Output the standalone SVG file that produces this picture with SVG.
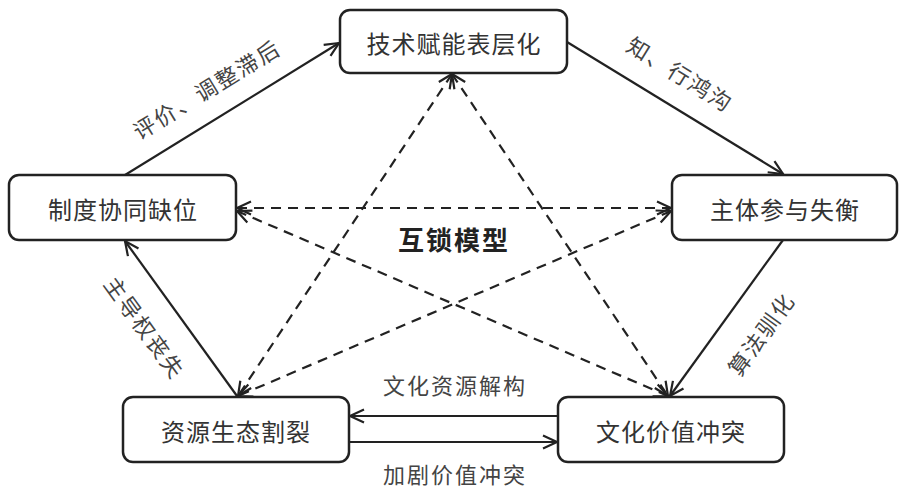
<svg xmlns="http://www.w3.org/2000/svg" width="903" height="489" viewBox="0 0 903 489">
<style>
.node rect{fill:#fff;stroke:#222;stroke-width:2.5}
.node text{font-family:"Noto Sans CJK SC","Noto Sans",sans-serif;font-size:24px;letter-spacing:1px;fill:#333;text-anchor:middle;dominant-baseline:central}
.solid{stroke:#222;stroke-width:2.2;fill:none}
.dash{stroke:#222;stroke-width:2.2;fill:none;stroke-dasharray:10 7}
.lbl{font-family:"Noto Sans CJK SC","Noto Sans",sans-serif;font-size:22px;letter-spacing:2px;fill:#444;text-anchor:middle;dominant-baseline:central}
.title{font-family:"Noto Sans CJK SC","Noto Sans",sans-serif;font-size:26px;font-weight:bold;letter-spacing:2px;fill:#222;text-anchor:middle;dominant-baseline:central}
</style>
<defs>
<marker id="arr" markerUnits="userSpaceOnUse" markerWidth="20" markerHeight="20" viewBox="-16 -10 20 20" refX="0" refY="0" orient="auto-start-reverse">
<path d="M-14,-6.5 L0,0 L-14,6.5" fill="none" stroke="#222" stroke-width="2.2" stroke-dasharray="none"/>
</marker>
</defs>
<rect width="903" height="489" fill="#fff"/>
<g id="connectors">
<line class="solid" x1="125" y1="175" x2="339" y2="43" marker-end="url(#arr)"/>
<line class="solid" x1="567" y1="42" x2="783" y2="174" marker-end="url(#arr)"/>
<line class="solid" x1="783" y1="240" x2="670" y2="396" marker-end="url(#arr)"/>
<line class="solid" x1="237" y1="396" x2="125" y2="241" marker-end="url(#arr)"/>
<line class="solid" x1="558" y1="416" x2="350" y2="416" marker-end="url(#arr)"/>
<line class="solid" x1="350" y1="442" x2="557" y2="442" marker-end="url(#arr)"/>
<line class="dash" x1="237" y1="208" x2="671" y2="208" marker-start="url(#arr)" marker-end="url(#arr)"/>
<line class="dash" x1="452" y1="74" x2="238" y2="396" marker-start="url(#arr)" marker-end="url(#arr)"/>
<line class="dash" x1="452" y1="74" x2="668" y2="396" marker-start="url(#arr)" marker-end="url(#arr)"/>
<line class="dash" x1="237" y1="211" x2="668" y2="396" marker-start="url(#arr)" marker-end="url(#arr)"/>
<line class="dash" x1="671" y1="211" x2="238" y2="396" marker-start="url(#arr)" marker-end="url(#arr)"/>
<text class="lbl" transform="translate(206,88) rotate(-31.5)">评价、调整滞后</text>
<text class="lbl" transform="translate(681,73) rotate(31.7)">知、行鸿沟</text>
<text class="lbl" transform="translate(146,327) rotate(54)">主导权丧失</text>
<text class="lbl" transform="translate(760,333) rotate(-54)">算法驯化</text>
<text class="lbl" x="455" y="384">文化资源解构</text>
<text class="lbl" x="455" y="473">加剧价值冲突</text>
</g>
<text class="title" x="454" y="238">互锁模型</text>
<g id="n_tech" class="node"><rect x="340" y="10" width="227" height="63" rx="10"/><text x="454" y="42">技术赋能表层化</text></g>
<g id="n_inst" class="node"><rect x="9" y="175" width="227" height="65" rx="10"/><text x="123" y="208">制度协同缺位</text></g>
<g id="n_subj" class="node"><rect x="672" y="175" width="225" height="65" rx="10"/><text x="785" y="208">主体参与失衡</text></g>
<g id="n_res" class="node"><rect x="123" y="397" width="226" height="65" rx="10"/><text x="236" y="430">资源生态割裂</text></g>
<g id="n_cult" class="node"><rect x="558" y="397" width="226" height="65" rx="10"/><text x="671" y="430">文化价值冲突</text></g>
</svg>
